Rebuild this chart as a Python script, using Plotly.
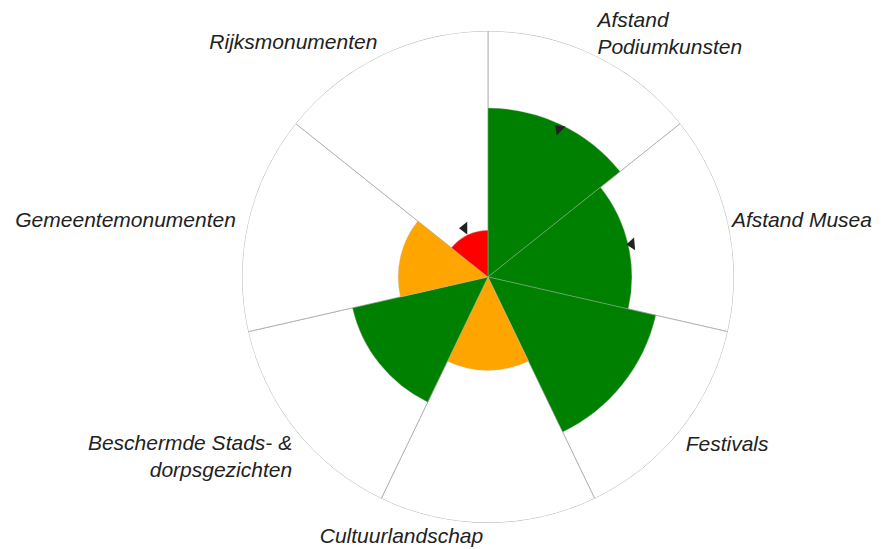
import plotly.graph_objects as go
import numpy as np

categories = ["Afstand<br>Podiumkunsten", "Afstand Musea", "Festivals", "Cultuurlandschap",
              "Beschermde Stads- &<br>dorpsgezichten", "Gemeentemonumenten", "Rijksmonumenten"]
scores = [0.687, 0.585, 0.70, 0.38, 0.565, 0.365, 0.19]
score_colors = ["green", "green", "green", "orange", "green", "orange", "red"]

marker_cats = [0, 1, 6]
marker_values = [0.667, 0.60, 0.22]
marker_angles = [45, -5, 0]

n = len(categories)
step = 360 / n
theta = [i * step + step / 2 for i in range(n)]

fig = go.Figure()

# lege achtergrondsegmenten
fig.add_trace(go.Barpolar(
    r=[1] * n, theta=theta, width=[step] * n,
    marker=dict(color="white", line=dict(color="#a8a8a8", width=0.8)),
    hoverinfo="skip", showlegend=False,
))

fig.add_trace(go.Barpolar(
    r=scores, theta=theta, width=[step] * n,
    marker=dict(color=score_colors, line=dict(color="rgba(190,190,190,0.6)", width=0.6)),
    showlegend=False,
))

fig.add_trace(go.Scatterpolar(
    r=marker_values, theta=[theta[i] for i in marker_cats], mode="markers",
    marker=dict(symbol="triangle-left", size=11, color="#222222", angle=marker_angles),
    showlegend=False,
))

# labels net buiten de cirkel (onzichtbare markers geven de afstand)
label_pos = ["top right", "middle right", "bottom right", "bottom left",
             "bottom left", "middle left", "top left"]
label_gap = [13, 5, 7, 6, 4, 18, 8]
label_r = [0.94, 1, 1, 1, 1, 1, 0.98]
fig.add_trace(go.Scatterpolar(
    r=label_r, theta=theta, mode="markers+text", text=categories,
    textposition=label_pos, cliponaxis=False,
    marker=dict(size=label_gap, opacity=0),
    textfont=dict(family="Liberation Sans, Arial", size=21, color="#222222", style="italic"),
    hoverinfo="skip", showlegend=False,
))

fig.update_layout(
    width=881, height=549,
    margin=dict(l=0, r=0, t=0, b=0),
    paper_bgcolor="white",
    polar=dict(
        domain=dict(x=[0.2656, 0.8240], y=[0.0620, 0.9582]),
        bgcolor="white",
        radialaxis=dict(range=[0, 1], visible=False, showgrid=False),
        angularaxis=dict(rotation=90, direction="clockwise", showgrid=False,
                         showline=False, showticklabels=False, ticks=""),
        bargap=0,
        barmode="overlay",
    ),
)

fig.write_html("out.html")
